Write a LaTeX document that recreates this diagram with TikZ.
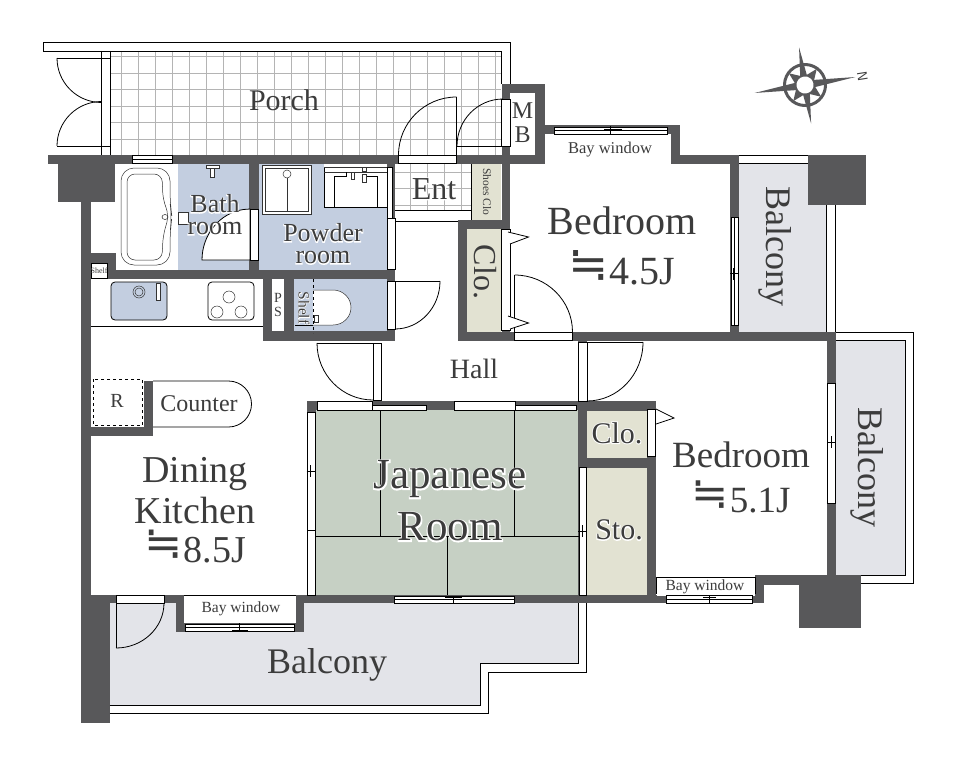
\documentclass[tikz,border=0pt]{standalone}
\usepackage{fontspec}
\setmainfont{Liberation Serif}
\newfontfamily\halofont[FakeBold=6]{Liberation Serif}
\newfontfamily\symfont{DejaVu Sans}
\usetikzlibrary{positioning}
\definecolor{wallgray}{HTML}{58585A}
\definecolor{tilegray}{HTML}{B4B4B4}
\definecolor{inkgray}{HTML}{3C3C3C}
\definecolor{wetblue}{HTML}{C3CEE0}
\definecolor{balconygray}{HTML}{E3E4E9}
\definecolor{closetbeige}{HTML}{E2E2D2}
\definecolor{tatamigreen}{HTML}{C6D0C4}
\newcommand{\fsz}[1]{\fontsize{#1}{#1}\selectfont}
\newcommand{\halo}[1]{\leavevmode\rlap{\color{white}\halofont #1}#1}
\newcommand{\neqdot}{\raisebox{0.1em}{\scalebox{1.2}{\symfont ≒}}\hspace{0.03em}}
\tikzset{
  wall/.style={fill=wallgray},
  winbox/.style={draw=black,fill=white,line width=0.8pt},
  thinline/.style={draw=black,line width=0.8pt},
  fineline/.style={draw=black!80,line width=0.5pt},
  tile/.style={draw=tilegray,line width=1pt},
  every node/.style={inner sep=0pt,text=inkgray,align=center}
}
\begin{document}
\begin{tikzpicture}[x=1pt,y=1pt]
  \useasboundingbox (0,0) rectangle (957,-768);
  % floors
  \fill[wetblue] (178,-164) rectangle (249,-270);
  \fill[wetblue] (259,-164) rectangle (387,-270);
  \fill[wetblue] (294,-279) rectangle (387,-331);
  \fill[closetbeige] (472,-164) rectangle (501,-220);
  \fill[closetbeige] (467,-229) rectangle (501,-332);
  \fill[closetbeige] (587,-411) rectangle (647,-458);
  \fill[closetbeige] (587,-468) rectangle (647,-595);
  \fill[tatamigreen] (316,-410) rectangle (579,-595);
  \fill[balconygray] (739,-163) rectangle (826,-332);
  \fill[balconygray] (836,-340) rectangle (905,-575);
  \fill[balconygray] (109.5,-603) -- (578,-603) -- (578,-663) -- (480,-663) -- (480,-705) -- (109.5,-705) -- cycle;
  % tiles
  \foreach \tx in {0,...,22} {
    \draw[tile] ({121+17*\tx},-51) -- ({121+17*\tx},-155);
  }
  \foreach \ty in {0,...,5} {
    \draw[tile] (110,{-56.5-16.5*\ty}) -- (501,{-56.5-16.5*\ty});
  }
  \foreach \tx in {17,...,20} {
    \draw[tile] ({121+17*\tx},-164) -- ({121+17*\tx},-210);
  }
  \foreach \ty in {7,8,9} {
    \draw[tile] (395,{-56.5-16.5*\ty}) -- (472,{-56.5-16.5*\ty});
  }
  % porch rails
  \draw[thinline] (43,-51) -- (43,-42) -- (510,-42) -- (510,-84);
  \draw[thinline] (43,-51) -- (501.5,-51) -- (501.5,-84);
  \draw[thinline] (101.5,-51) -- (101.5,-155);
  \draw[thinline] (110,-51) -- (110,-155);
  \draw[thinline] (101.5,-58) -- (110,-58);
  \draw[thinline] (101.5,-146) -- (110,-146);
  % walls
  \fill[wall] (48,-155) rectangle (398,-164);
  \fill[wall] (58,-164) rectangle (115,-202);
  \fill[wall] (456,-155) rectangle (544.5,-164);
  \fill[wall] (501.5,-84) rectangle (544.5,-93);
  \fill[wall] (501.5,-84) rectangle (510,-341);
  \fill[wall] (535,-84) rectangle (544.5,-164);
  \fill[wall] (544.5,-125) rectangle (680,-134);
  \fill[wall] (670.5,-125) rectangle (680,-164);
  \fill[wall] (680,-155) rectangle (739,-164);
  \fill[wall] (730,-155) rectangle (739,-341);
  \fill[wall] (807.5,-155) rectangle (866,-205);
  \fill[wall] (457.5,-220) rectangle (510,-229);
  \fill[wall] (457.5,-220) rectangle (467,-341);
  \fill[wall] (457.5,-332) rectangle (836,-341);
  \fill[wall] (249,-164) rectangle (259,-270);
  \fill[wall] (387,-164) rectangle (395,-341);
  \fill[wall] (91,-270) rectangle (395,-279);
  \fill[wall] (91,-253) rectangle (116,-270);
  \fill[wall] (263,-279) rectangle (272,-341);
  \fill[wall] (284,-279) rectangle (294,-331);
  \fill[wall] (263,-331) rectangle (395,-341);
  \fill[wall] (81,-202) rectangle (91,-595);
  \fill[wall] (81,-595) rectangle (109.5,-723);
  \fill[wall] (91,-427) rectangle (153,-436);
  \fill[wall] (143.5,-381) rectangle (153,-436);
  \fill[wall] (306.5,-401) rectangle (587,-410);
  \fill[wall] (306.5,-401) rectangle (316,-603);
  \fill[wall] (578,-341) rectangle (587,-603);
  \fill[wall] (578,-401) rectangle (656,-411);
  \fill[wall] (587,-458) rectangle (656,-468);
  \fill[wall] (647,-401) rectangle (656,-603);
  \fill[wall] (81,-595) rectangle (175.5,-603);
  \fill[wall] (175.5,-595) rectangle (184,-632);
  \fill[wall] (295.5,-595) rectangle (304,-632);
  \fill[wall] (175.5,-623) rectangle (304,-632);
  \fill[wall] (295.5,-595) rectangle (755,-603);
  \fill[wall] (826.5,-341) rectangle (836,-575);
  \fill[wall] (755,-575) rectangle (826.5,-585);
  \fill[wall] (755,-575) rectangle (764,-603);
  \fill[wall] (799,-575) rectangle (861,-628);
  \fill[wall] (826.5,-575) rectangle (836,-585);
  % bay window floors
  \fill[white] (544.5,-134) rectangle (670.5,-164);
  \fill[white] (184,-595) rectangle (295.5,-623);
  \draw[thinline] (184,-595.5) -- (295.5,-595.5);
  \filldraw[fill=white,draw=black,line width=0.8pt] (656,-594) -- (656,-577) -- (755,-577) -- (755,-594);
  \fill[white] (656.5,-577.5) rectangle (754.5,-596);
  % windows and door slits
  \draw[winbox] (132,-155.5) rectangle (172,-163);
  \draw[thinline] (132,-159) -- (172,-159);
  \draw[winbox] (398.5,-155.5) rectangle (456.5,-163.5);
  \draw[winbox] (554,-127) rectangle (667,-134);
  \draw[thinline] (554,-130) -- (667,-130);
  \draw[thinline] (610,-126) -- (610,-135);
  \draw[thinline] (604,-129) -- (622,-129);
  \draw[winbox] (731,-217) rectangle (738,-325);
  \draw[thinline] (734.5,-217) -- (734.5,-325);
  \draw[thinline] (733,-268) -- (733,-280);
  \draw[thinline] (730,-273) -- (739,-273);
  \fill[white] (739,-155.5) rectangle (807.5,-163);
  \draw[thinline] (739,-155.5) -- (807.5,-155.5);
  \draw[thinline] (739,-163) -- (807.5,-163);
  \draw[thinline] (826.5,-205) -- (826.5,-332);
  \draw[thinline] (835,-205) -- (835,-332);
  \draw[thinline] (836,-332.5) -- (913.5,-332.5) -- (913.5,-583) -- (861,-583);
  \draw[thinline] (836,-340) -- (905,-340) -- (905,-575) -- (861,-575);
  \draw[winbox] (827,-383) rectangle (835,-503);
  \draw[thinline] (827,-442) -- (835,-442);
  \draw[thinline] (831,-436) -- (831,-448);
  \draw[winbox] (501.5,-229) rectangle (510,-330);
  \draw[winbox] (514.5,-332.5) rectangle (572.5,-340.5);
  \draw[winbox] (647.5,-409) rectangle (655.5,-456);
  \draw[winbox] (387,-218) rectangle (395,-269);
  \draw[winbox] (387,-167) rectangle (392,-218);
  \draw[winbox] (387,-281) rectangle (395,-329);
  \draw[winbox] (501.5,-99) rectangle (510,-146);
  \draw[winbox] (373,-343) rectangle (381,-400);
  \draw[winbox] (578.5,-342) rectangle (587,-401);
  \draw[winbox] (317,-401.5) rectangle (372,-410);
  \draw[winbox] (372,-405) rectangle (426.5,-410);
  \draw[winbox] (454,-401.5) rectangle (515.5,-410);
  \draw[winbox] (515.5,-405) rectangle (576,-410);
  \draw[winbox] (307.5,-412) rectangle (315,-530);
  \draw[winbox] (307.5,-530) rectangle (315,-595);
  \draw[thinline] (306.5,-471) -- (316,-471);
  \draw[thinline] (310,-465) -- (310,-477);
  \draw[winbox] (579,-467) rectangle (586,-595);
  \draw[thinline] (578,-531) -- (587,-531);
  \draw[thinline] (582.5,-525) -- (582.5,-537);
  \draw[winbox] (394,-596) rectangle (514.5,-603);
  \draw[thinline] (394,-599.5) -- (514.5,-599.5);
  \draw[thinline] (453.5,-596) -- (453.5,-603);
  \draw[thinline] (445,-597.5) -- (462,-597.5);
  \draw[winbox] (185.5,-624) rectangle (294,-631.5);
  \draw[thinline] (185.5,-627) -- (294,-627);
  \draw[thinline] (239,-623) -- (239,-632);
  \draw[thinline] (232,-630) -- (248,-630);
  \draw[winbox] (666,-595.5) rectangle (752.5,-603);
  \draw[thinline] (666,-599) -- (752.5,-599);
  \draw[thinline] (709,-595) -- (709,-603);
  \draw[thinline] (703,-597) -- (716,-597);
  \draw[winbox] (116,-595.5) rectangle (164,-603);
  % balcony rail
  \draw[thinline] (109.5,-705) -- (480,-705) -- (480,-663) -- (578,-663) -- (578,-603);
  \draw[thinline] (109.5,-713) -- (488.5,-713) -- (488.5,-672) -- (586,-672) -- (586,-603);
  % doors
  \draw[thinline] (57,-58) -- (101.5,-58);
  \draw[thinline] (57,-58) arc (180:270:44.5);
  \draw[thinline] (57,-146) -- (101.5,-146);
  \draw[thinline] (57,-146) arc (180:90:44.5);
  \draw[thinline] (456.5,-155) -- (456.5,-97);
  \draw[thinline] (456.5,-97) arc (90:180:58);
  \draw[thinline] (457,-146) -- (501.5,-146);
  \draw[thinline] (457,-146) arc (180:90:46 and 47);
  \draw[thinline] (514.5,-332) -- (514.5,-275);
  \draw[thinline] (514.5,-275) arc (90:0:58 and 57);
  \filldraw[thinline,fill=white] (250,-260) -- (202,-260) arc (180:98:48 and 51) -- (250,-209) -- cycle;
  \draw[winbox] (250,-209) rectangle (258,-260);
  \draw[thinline] (395,-281) -- (440,-281);
  \draw[thinline] (440,-281) arc (0:-90:45 and 48);
  \draw[thinline] (317,-343) -- (373,-343);
  \draw[thinline] (317,-343) arc (180:270:56 and 57);
  \draw[thinline] (587,-342) -- (643,-342);
  \draw[thinline] (643,-342) arc (0:-90:56 and 59);
  \draw[thinline] (116,-603) -- (116,-648);
  \draw[thinline] (116,-648) arc (-90:0:48 and 45);
  \draw[thinline,fill=white] (508,-232) -- (528.5,-237) -- (510,-244);
  \draw[thinline,fill=white] (508,-316) -- (528.5,-323) -- (510,-329);
  \draw[thinline,fill=white] (656,-409) -- (674,-418) -- (656,-424);
  % entrance and counters
  \draw[thinline] (395,-210) -- (472,-210);
  \draw[thinline] (395,-221) -- (457.5,-221);
  \draw[thinline] (471.5,-164) -- (471.5,-220);
  \draw[thinline] (91,-326) -- (263,-326);
  \draw[thinline,fill=white] (153,-381) -- (228.5,-381) arc (90:-90:23) -- (153,-427);
  \draw[thinline,dashed] (93,-379) rectangle (142.5,-425);
  \draw[thinline,fill=white] (91,-263) rectangle (107,-278);
  % tatami
  \draw[thinline] (316,-536) -- (579,-536);
  \draw[thinline] (380,-410) -- (380,-536);
  \draw[thinline] (514.5,-410) -- (514.5,-536);
  \draw[thinline] (447,-536) -- (447,-595);
  % bath fixtures
  \draw[fineline,rounded corners=13pt] (121,-168) -- (170,-168) -- (170,-203) -- (172,-217) -- (170,-232) -- (170,-265) -- (121,-265) -- cycle;
  \draw[fineline,rounded corners=8pt] (127,-174) -- (162,-174) -- (163,-200) -- (169,-215) -- (163,-236) -- (162,-260) -- (127,-260) -- cycle;
  \draw[fineline] (165,-217) ellipse (3 and 2.5);
  \draw[fineline,fill=white] (178,-212) rectangle (188,-224);
  \draw[fineline,fill=white] (206,-165) rectangle (219,-168);
  \draw[fineline,fill=white] (210,-168) rectangle (214,-177);
  % powder room fixtures
  \draw[thinline,draw=black!80,fill=white] (262,-165) rectangle (311,-214);
  \draw[fineline] (265,-168) rectangle (308.5,-211);
  \draw[fineline] (287,-178) -- (287,-212);
  \draw[fineline,fill=white] (287,-174) circle (4);
  \fill[white] (324,-164) rectangle (387,-207);
  \draw[thinline] (387,-207) -- (324,-207) -- (324,-167);
  \draw[fineline] (324,-167) -- (387,-167);
  \draw[fineline] (324,-172) -- (387,-172);
  \draw[thinline] (334,-207) -- (334,-176) -- (346,-176) -- (346,-172);
  \draw[thinline] (377,-207) -- (377,-176) -- (366,-176);
  \draw[fineline,fill=white] (351,-172) rectangle (354,-179);
  \draw[fineline,fill=white] (362,-174) rectangle (366,-182);
  \draw[fineline,fill=white] (362,-167) rectangle (366,-171);
  % kitchen fixtures
  \draw[thinline,fill=wetblue,rounded corners=4pt] (111,-282) rectangle (167,-320);
  \draw[fineline] (139,-292) circle (6);
  \draw[fineline] (139,-292) circle (4);
  \draw[fineline,fill=white] (156,-283) rectangle (160,-300);
  \draw[thinline,rounded corners=4pt] (208,-282) rectangle (254,-320);
  \draw[fineline] (229,-297) circle (6);
  \draw[fineline] (217,-312) circle (6);
  \draw[fineline] (241,-312) circle (6);
  % toilet
  \draw[fineline,fill=white] (313,-290) -- (333,-290) arc (90:-90:18 and 17.5) -- (313,-325);
  \draw[thinline,dashed,line width=1pt] (313,-279) -- (313,-333);
  \draw[thinline] (295,-325) -- (313,-325);
  \draw[fineline,fill=white] (314,-315) rectangle (318,-322);
  % compass
  \begin{scope}[shift={(805,-85)},rotate=9]
    \draw[wallgray,line width=3pt] (0,0) circle (20.5);
    \foreach \ca in {45,135,225,315} {
      \fill[wallgray,rotate=\ca] (8,-5) -- (20,0) -- (8,5) -- cycle;
    }
    \fill[wallgray] (-51,0) -- (0,4.5) -- (51,0) -- (0,-4.5) -- cycle;
    \fill[wallgray] (0,38) -- (4.5,0) -- (0,-39) -- (-4.5,0) -- cycle;
    \fill[white] (0,0) circle (8.5);
  \end{scope}
  \node[rotate=-81,font=\fsz{14}\sffamily] (north) at (862.5,-76) {N};
  % labels
  \node[font=\fsz{30}] (porch) at (284,-100) {Porch};
  \node[font=\fsz{26}] (bath) at (215,-215) {\halo{Bath}\\[-4pt]\halo{room}};
  \node[font=\fsz{26}] (powder) at (323,-244) {\halo{Powder}\\[-4pt]\halo{room}};
  \node[font=\fsz{32}] (ent) at (434,-189) {\halo{Ent}};
  \node[font=\fsz{24}] (mb) at (522.5,-123) {M\\B};
  \node[rotate=-90,font=\fsz{11.5}] (shoes) at (487,-192) {Shoes Clo};
  \node[font=\fsz{16.5}] (baytop) at (610,-150) {Bay window};
  \node[font=\fsz{40}] (bedsmall) at (622,-246) {Bedroom\\[10pt]\neqdot 4.5J};
  \node[rotate=-90,font=\fsz{32}] (closmall) at (485,-272) {Clo.};
  \node[rotate=-90,font=\fsz{36}] (balconyupper) at (775,-246) {Balcony};
  \node[rotate=-90,font=\fsz{36}] (balconyright) at (867,-467) {Balcony};
  \node[font=\fsz{36}] (balconylower) at (327,-665) {Balcony};
  \node[font=\fsz{28}] (hall) at (474,-369) {Hall};
  \node[font=\fsz{20}] (fridge) at (117,-401) {R};
  \node[font=\fsz{24}] (counter) at (199,-404) {Counter};
  \node[font=\fsz{38}] (dining) at (195,-510) {Dining\\[3pt]Kitchen\\[1pt]\neqdot 8.5J};
  \node[font=\fsz{43}] (japanese) at (450,-501) {\halo{Japanese}\\[9pt]\halo{Room}};
  \node[font=\fsz{30}] (clobig) at (617,-433) {\halo{Clo.}};
  \node[font=\fsz{30}] (sto) at (619,-530) {\halo{Sto.}};
  \node[font=\fsz{37}] (bedbig) at (741,-477) {Bedroom\\[8pt]\neqdot 5.1J};
  \node[font=\fsz{15.5}] (baylower) at (241,-609) {Bay window};
  \node[font=\fsz{15.5}] (bayright) at (705,-587) {Bay window};
  \node[font=\fsz{14}] (ps) at (278,-305) {P\\S};
  \node[rotate=-90,font=\fsz{15.5}] (shelftoilet) at (304,-308) {\halo{Shelf}};
  \node[font=\fsz{8}] (shelfkitchen) at (99,-270.5) {Shelf};
\end{tikzpicture}
\end{document}
